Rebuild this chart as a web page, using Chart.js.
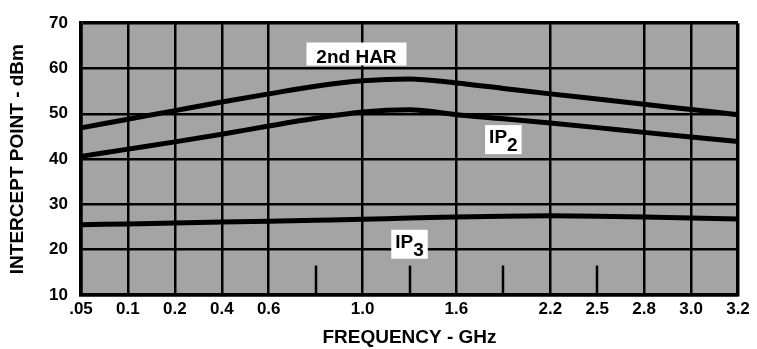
<!DOCTYPE html>
<html>
<head>
<meta charset="utf-8">
<script src="https://cdn.jsdelivr.net/npm/chart.js@4.4.0/dist/chart.umd.min.js"></script>
<style>
  html, body { margin: 0; padding: 0; background: #fff; }
  canvas { display: block; }
</style>
</head>
<body>
<canvas id="interceptChart" width="757" height="349"></canvas>
<script>
// frequency axis (GHz), blanks are the unlabelled half steps
const freqLabels = ['.05', '0.1', '0.2', '0.4', '0.6', '', '1.0', '', '1.6', '', '2.2', '2.5', '2.8', '3.0', '3.2'];
// which steps get a full grid line, which only a short mark at the bottom
const majorGrid = [0, 1, 2, 3, 4, 6, 8, 10, 12, 13, 14];
const minorMarks = [5, 7, 9, 11];

// intercept point, dBm
const harData = [46.9, 48.8, 50.7, 52.6, 54.4, 56.1, 57.3, 57.7, 56.8, 55.6, 54.4, 53.25, 52.1, 50.95, 49.8];
const ip2Data = [40.6, 42.2, 43.8, 45.5, 47.3, 49.0, 50.4, 50.9, 49.8, 48.9, 47.95, 46.95, 45.9, 44.9, 43.9];
const ip3Data = [25.5, 25.7, 25.9, 26.1, 26.3, 26.5, 26.7, 27.0, 27.2, 27.4, 27.5, 27.4, 27.2, 27.0, 26.8];

const yTicks = [10, 20, 30, 40, 50, 60, 70];

const FONT = "'Liberation Sans', Arial, sans-serif";

// names written on the curves
const curveNames = [
  { text: '2nd HAR', sub: '', at: 5.87, val: 63.2 },
  { text: 'IP', sub: '2', at: 9.0, val: 44.3 },
  { text: 'IP', sub: '3', at: 7.0, val: 21.2 }
];

const paperPlugin = {
  id: 'paper',
  beforeDraw(chart) {
    const { ctx, chartArea: a } = chart;
    ctx.save();
    ctx.fillStyle = '#a4a4a4';
    ctx.fillRect(a.left, a.top, a.right - a.left, a.bottom - a.top);
    ctx.restore();
  },
  beforeDatasetsDraw(chart) {
    const { ctx, scales: { x, y } } = chart;
    ctx.save();
    ctx.strokeStyle = '#000';
    ctx.lineWidth = 2.5;
    minorMarks.forEach(i => {
      const px = Math.round(x.getPixelForValue(i));
      ctx.beginPath();
      ctx.moveTo(px, y.getPixelForValue(10));
      ctx.lineTo(px, y.getPixelForValue(16.5));
      ctx.stroke();
    });
    ctx.restore();
  },
  afterDatasetsDraw(chart) {
    const { ctx, scales: { x, y } } = chart;
    ctx.save();
    ctx.font = 'bold 19px ' + FONT;
    ctx.textBaseline = 'alphabetic';
    ctx.textAlign = 'left';
    curveNames.forEach(n => {
      const cx = x.getPixelForValue(n.at);
      const cy = y.getPixelForValue(n.val);
      const w1 = ctx.measureText(n.text).width;
      const w2 = n.sub ? ctx.measureText(n.sub).width : 0;
      const h = n.sub ? 29 : 23;
      const w = n.sub ? w1 + w2 + 8 : 100;
      const left = cx - w / 2, top = cy - h / 2;
      ctx.fillStyle = '#fff';
      ctx.fillRect(left, top, w, h);
      ctx.fillStyle = '#000';
      const tx = cx - (w1 + w2) / 2;
      ctx.fillText(n.text, tx, top + (n.sub ? 18 : 20));
      if (n.sub) ctx.fillText(n.sub, tx + w1, top + 26);
    });
    ctx.restore();
  }
};

const lineStyle = {
  borderColor: '#000',
  borderWidth: 5,
  pointRadius: 0,
  cubicInterpolationMode: 'monotone',
  fill: false
};

new Chart(document.getElementById('interceptChart'), {
  type: 'line',
  data: {
    labels: freqLabels,
    datasets: [
      { label: '2nd HAR', data: harData, ...lineStyle },
      { label: 'IP2', data: ip2Data, ...lineStyle },
      { label: 'IP3', data: ip3Data, ...lineStyle }
    ]
  },
  options: {
    responsive: false,
    animation: false,
    devicePixelRatio: 1,
    layout: { autoPadding: false, padding: { left: 0, top: 12, right: 19, bottom: 0 } },
    plugins: { legend: { display: false }, tooltip: { enabled: false } },
    scales: {
      x: {
        type: 'category',
        offset: false,
        afterFit: s => { s.height = 54; },
        border: { display: true, color: '#000', width: 3.5 },
        grid: {
          drawTicks: false,
          color: c => majorGrid.includes(c.index) ? '#000' : 'rgba(0,0,0,0)',
          lineWidth: c => c.index === freqLabels.length - 1 ? 3.5 : 2.5
        },
        ticks: {
          autoSkip: false, maxRotation: 0, padding: 4, color: '#000',
          font: { family: FONT, size: 17, weight: 'bold' }
        },
        title: {
          display: true, text: 'FREQUENCY - GHz', color: '#000',
          font: { family: FONT, size: 19, weight: 'bold' }, padding: { top: 0, bottom: 0 }
        }
      },
      y: {
        min: 10, max: 70,
        afterFit: s => { s.width = 81; },
        afterBuildTicks: s => { s.ticks = yTicks.map(v => ({ value: v })); },
        border: { display: true, color: '#000', width: 3.5 },
        grid: {
          drawTicks: false,
          color: '#000',
          lineWidth: c => c.tick && c.tick.value === 70 ? 3.5 : 2.5
        },
        ticks: {
          padding: 13, color: '#000',
          font: { family: FONT, size: 17, weight: 'bold' }
        },
        title: {
          display: true, text: 'INTERCEPT POINT - dBm', color: '#000',
          font: { family: FONT, size: 19, weight: 'bold' }, padding: { top: 6, bottom: 0 }
        }
      }
    }
  },
  plugins: [paperPlugin]
});
</script>
</body>
</html>
